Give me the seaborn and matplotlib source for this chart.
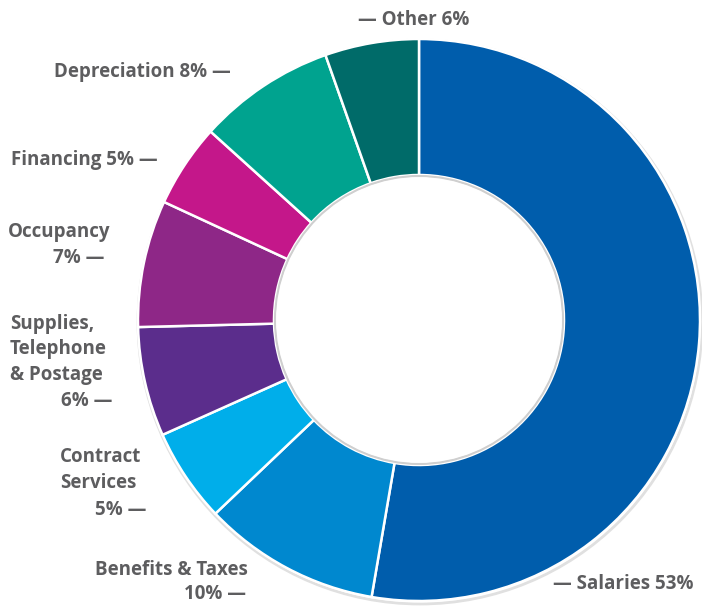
import matplotlib.pyplot as plt
import seaborn as sns
from matplotlib.patches import Circle

# expense shares (share of total)
categories = ["Salaries", "Benefits & Taxes", "Contract Services",
              "Supplies, Telephone & Postage", "Occupancy", "Financing",
              "Depreciation", "Other"]
values = [52.7, 10.2, 5.4, 6.3, 7.3, 4.8, 7.9, 5.4]
shown_pct = ["53%", "10%", "5%", "6%", "7%", "5%", "8%", "6%"]
colors = ["#005DAC", "#0088CF", "#00AEEA", "#5B2D8C", "#8E2787",
          "#C4178A", "#00A38F", "#006B69"]

sns.set_theme(style="white")
plt.rcParams["font.family"] = ["Open Sans", "DejaVu Sans"]

fig = plt.figure(figsize=(7.02, 6.06), dpi=100)
ax = fig.add_axes([0, 0, 1, 1])

cx, cy, r_out, r_in = 419, 286, 281, 145

# faint shadow ring
ax.add_patch(Circle((cx + 1, cy - 2), r_out + 1, fc="none", ec="#e0e0e0", lw=2, zorder=0))

wedges, _ = ax.pie(values, colors=colors, startangle=90, counterclock=False,
                   radius=r_out, center=(cx, cy), frame=True,
                   wedgeprops=dict(width=r_out - r_in, edgecolor="white", linewidth=1.8))
ax.set_xlim(0, 702)
ax.set_ylim(0, 606)
ax.set_aspect("equal")
ax.axis("off")

ax.add_patch(Circle((cx, cy), r_in - 1, fc="none", ec="#cfcfcf", lw=1.5, zorder=3))
ax.add_patch(Circle((cx, cy), r_in - 2.5, fc="white", ec="none", zorder=4))

# label lines: (text, x, y, ha)
lab = dict(zip(categories, shown_pct))
label_lines = [
    ("\u2014 Other " + lab["Other"], 358, 586, "left"),
    ("Depreciation " + lab["Depreciation"] + " \u2014", 231, 534, "right"),
    ("Financing " + lab["Financing"] + " \u2014", 158, 446, "right"),
    ("Occupancy", 110, 374, "right"),
    (lab["Occupancy"] + " \u2014", 104, 348, "right"),
    ("Supplies,", 10, 282, "left"),
    ("Telephone", 10, 257, "left"),
    ("& Postage", 10, 231, "left"),
    (lab["Supplies, Telephone & Postage"] + " \u2014", 112, 205, "right"),
    ("Contract", 60, 149, "left"),
    ("Services", 60, 123, "left"),
    (lab["Contract Services"] + " \u2014", 146, 96, "right"),
    ("Benefits & Taxes", 95, 36, "left"),
    (lab["Benefits & Taxes"] + " \u2014", 246, 12, "right"),
    ("\u2014 Salaries " + lab["Salaries"], 553, 22, "left"),
]
for txt, x, y, ha in label_lines:
    ax.text(x, y, txt, ha=ha, va="center", fontsize=13.5, fontweight="bold",
            color="#5d5d5f", zorder=5)

fig.savefig("out.png", dpi=100)
